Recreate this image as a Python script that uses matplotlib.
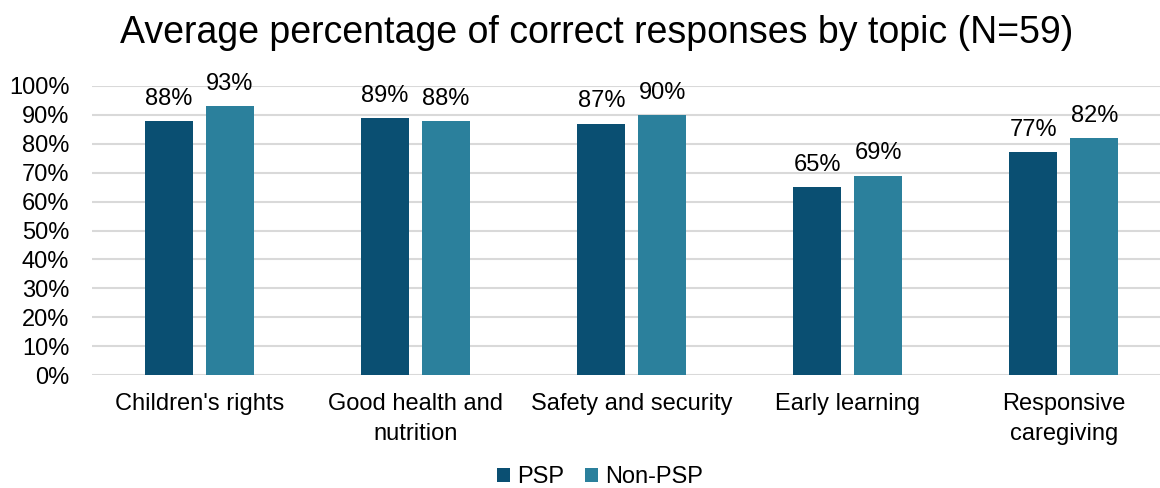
import numpy as np
import matplotlib
matplotlib.use("Agg")
import matplotlib.pyplot as plt
from matplotlib.ticker import FuncFormatter

plt.rcParams["font.family"] = ["Liberation Sans", "DejaVu Sans"]

# ------------------------------------------------------------------
# Data
# ------------------------------------------------------------------
topics = ["Children's rights", "Good health and\nnutrition", "Safety and security",
          "Early learning", "Responsive\ncaregiving"]
psp = [88, 89, 87, 65, 77]
non_psp = [93, 88, 90, 69, 82]
series_names = ["PSP", "Non-PSP"]
yticks = list(range(0, 101, 10))

PSP_COLOR = "#0a4f72"
NON_PSP_COLOR = "#2b809c"
GRID_COLOR = "#d9d9d9"
FS = 17

# ------------------------------------------------------------------
# Chart
# ------------------------------------------------------------------
fig = plt.figure(figsize=(11.6, 4.88), dpi=100)
ax = fig.add_axes([91.5 / 1160, 113 / 488, 1080.5 / 1160, 289 / 488])

x = np.arange(len(topics))
width = 0.222
offset = 0.141

bars1 = ax.bar(x - offset, psp, width, color=PSP_COLOR, label=series_names[0], zorder=3)
bars2 = ax.bar(x + offset, non_psp, width, color=NON_PSP_COLOR, label=series_names[1], zorder=3)

for bars, vals in ((bars1, psp), (bars2, non_psp)):
    for b, v in zip(bars, vals):
        ax.annotate(f"{v}%", (b.get_x() + b.get_width() / 2, v),
                    xytext=(0, 8), textcoords="offset points",
                    ha="center", va="bottom", fontsize=FS, color="#000000")

ax.set_xlim(-0.5, 4.5)
ax.set_ylim(0, 100)
ax.set_yticks(yticks)
ax.yaxis.set_major_formatter(FuncFormatter(lambda v, _: f"{v:.0f}%"))
ax.set_xticks(x)
ax.set_xticklabels(topics, fontsize=FS, linespacing=1.45)
ax.tick_params(axis="y", labelsize=FS, length=0, pad=16)
ax.tick_params(axis="x", length=0, pad=13)

ax.grid(axis="y", color=GRID_COLOR, linewidth=1.5, zorder=0)
for s in ax.spines.values():
    s.set_visible(False)

fig.text(597 / 1160, 1 - 33 / 488, "Average percentage of correct responses by topic (N=59)",
         ha="center", va="center", fontsize=27)

fig.legend(loc="center", bbox_to_anchor=(600 / 1160, 11 / 488), ncol=2, frameon=False,
           fontsize=FS, handlelength=0.55, handleheight=0.55, handletextpad=0.3,
           columnspacing=0.9)

fig.savefig("out.png", dpi=100)
